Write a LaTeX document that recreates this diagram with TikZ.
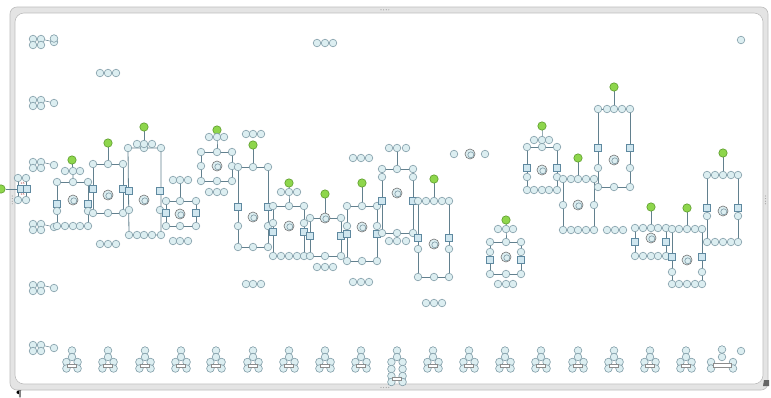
\documentclass[tikz,border=0pt]{standalone}
\usetikzlibrary{backgrounds}
\definecolor{cf}{HTML}{DCEEF1}
\definecolor{cb}{HTML}{7F9BA6}
\definecolor{sf}{HTML}{CFE6EF}
\definecolor{sb}{HTML}{5F89A0}
\definecolor{gf}{HTML}{8ED64C}
\definecolor{gb}{HTML}{5C9C2C}
\definecolor{lc}{HTML}{62808E}
\definecolor{frf}{HTML}{E4E4E4}
\definecolor{frb}{HTML}{BDBDBD}
\tikzset{
 c/.style={circle,draw=cb,fill=cf,line width=0.6pt,minimum size=7.6pt,inner sep=0pt},
 sq/.style={rectangle,draw=sb,fill=sf,line width=0.6pt,minimum size=7pt,inner sep=0pt},
 gn/.style={circle,draw=gb,fill=gf,line width=0.6pt,minimum size=8.4pt,inner sep=0pt},
 rg/.style={circle,draw=black!55,fill=cf,line width=0.6pt,minimum size=10pt,inner sep=0pt,
   path picture={\draw[draw=cb,line width=0.6pt] ([shift={(0.8pt,-0.8pt)}]path picture bounding box.center) circle (3pt);}},
 lb/.style={rectangle,draw=black!45,fill=white,line width=0.4pt,minimum width=9pt,minimum height=3pt,inner sep=0pt},
 ln/.style={draw=lc,line width=0.8pt},
 hd/.style={circle,fill=black!35,minimum size=1.2pt,inner sep=0pt}
}
\newcommand\rowc[3]{\foreach \xx [count=\ii] in {#3} {\node[c] (#1\ii) at (\xx,#2) {};}}
\newcommand\lclust[2]{\begin{scope}[shift={(0,#2)}]
 \node[c] (#1a) at (33,-3) {}; \node[c] (#1b) at (41,-3) {};
 \node[c] (#1c) at (33,3) {}; \node[c] (#1d) at (41,3) {};
 \node[c] (#1e) at (54,0) {};
 \draw[ln,line width=0.5pt] (#1b) -- (#1e);
\end{scope}}
\newcommand\tclust[2]{\begin{scope}[shift={(#2,0)}]
 \node[c] (#1a) at (0,350.5) {}; \node[c] (#1b) at (0,357) {};
 \node[c] (#1c) at (-5.6,362) {}; \node[c] (#1d) at (5.6,362) {};
 \node[c] (#1e) at (-5.6,368.5) {}; \node[c] (#1f) at (5.6,368.5) {};
 \node[lb] (#1l) at (0,365.3) {};
\end{scope}}
\newcommand\boxln[4]{\draw[ln] (#1.center) -- (#2.center) -- (#3.center) -- (#4.center) -- cycle;}
\begin{document}
\begin{tikzpicture}[x=1pt,y=-1pt]
\useasboundingbox (0,0) rectangle (771,397);
% ---------- frame -----------
\begin{pgfonlayer}{background}
\fill[white] (0,0) rectangle (771,397);
\draw[draw=frb,fill=frf,rounded corners=7pt,line width=0.6pt] (10,7) rectangle (768,390);
\draw[draw=frb,fill=white,rounded corners=9pt,line width=0.6pt] (15,13) rectangle (763,384);
\end{pgfonlayer}
\foreach \k in {0,1,2,3} {
 \node[hd] (ht\k) at (381+2.6*\k,9.8) {};
 \node[hd] (hb\k) at (381+2.6*\k,387.5) {};
 \node[hd] (hl\k) at (12.3,196+2.6*\k) {};
 \node[hd] (hr\k) at (765.5,196+2.6*\k) {};
}
\fill[black!60] (764,380) -- (769,380) -- (769,386) -- (763,386) -- cycle;
\node[inner sep=0pt,font=\footnotesize\bfseries] (pil) at (19,394) {\P};
% ---------- left column ----------
\lclust{LA}{42}
\node[c] (LAx) at (54,38.5) {};
\lclust{LB}{103}
\lclust{LC}{165}
\lclust{LD}{227}
\lclust{LE}{288}
\lclust{LF}{348}
% left edge element
\node[gn] (X0) at (1,189) {};
\node[c] (X1) at (18,178) {}; \node[c] (X2) at (26,178) {};
\node[sq] (X3) at (21,189) {}; \node[sq] (X4) at (27,189) {};
\node[c] (X5) at (18,200) {}; \node[c] (X6) at (26,200) {};
\draw[ln] (X0) -- (X3);
\node[font=\fontsize{3}{3}\selectfont,text=red!60!black] (X7) at (22.5,183.5) {15};
\node[font=\fontsize{3}{3}\selectfont,text=red!60!black] (X8) at (22.5,194.5) {15};
% loose groups
\rowc{T1}{43}{317,325,333}
\rowc{T2}{73}{100,108,116}
\node[c] (T3) at (741,40) {};
\node[c] (T4) at (741,351) {};
% ---------- A ----------
\node[gn] (Ag) at (72,160) {};
\rowc{At}{171}{65,73,80}
\rowc{Ar}{182}{57,73,88}
\node[sq] (As1) at (57,204) {}; \node[sq] (As2) at (88,204) {};
\node[c] (Ac1) at (57,211) {}; \node[c] (Ac2) at (88,211) {};
\rowc{Ab}{226}{57,65,73,80,88}
\node[rg] (Am) at (73,200) {};
% ---------- B ----------
\node[gn] (Bg) at (108,143) {};
\rowc{Br}{164}{93,108,123}
\node[sq] (Bs1) at (93,189) {}; \node[sq] (Bs2) at (123,189) {};
\rowc{Bb}{213}{93,108,123}
\node[rg] (Bm) at (108,195) {};
\rowc{Bu}{244}{100,108,116}
% ---------- C ----------
\node[gn] (Cg) at (144,127) {};
\rowc{Cr}{148}{128,144,161}
\rowc{Ct}{144}{137,144,152}
\node[sq] (Cs1) at (129,191) {}; \node[sq] (Cs2) at (160,191) {};
\node[c] (Cc1) at (129,210) {}; \node[c] (Cc2) at (160,210) {};
\rowc{Cb}{235}{129,137,144,152,161}
\node[rg] (Cm) at (144,200) {};
% ---------- D ----------
\rowc{Dt}{180}{173,180,188}
\rowc{Dr}{201}{166,180,196}
\node[sq] (Ds1) at (166,213) {}; \node[sq] (Ds2) at (196,213) {};
\rowc{Db}{226}{166,180,196}
\node[rg] (Dm) at (180,214) {};
\rowc{Du}{241}{173,180,188}
% ---------- E ----------
\node[gn] (Eg) at (217,130) {};
\rowc{Et}{137}{209,217,224}
\rowc{Er}{152}{201,217,232}
\node[c] (Ec1) at (201,166) {}; \node[c] (Ec2) at (232,166) {};
\rowc{Eb}{181}{201,217,232}
\node[rg] (Em) at (217,166) {};
\rowc{Eu}{192}{209,217,224}
\rowc{Ev}{134}{246,253,261}
% ---------- F ----------
\node[gn] (Fg) at (253,145) {};
\rowc{Fr}{167}{238,253,268}
\node[sq] (Fs1) at (238,207) {}; \node[sq] (Fs2) at (268,207) {};
\node[c] (Fc1) at (238,226) {}; \node[c] (Fc2) at (268,226) {};
\rowc{Fb}{247}{238,253,268}
\node[rg] (Fm) at (253,217) {};
\rowc{Fu}{284}{246,253,261}
% ---------- G ----------
\node[gn] (Gg) at (289,183) {};
\rowc{Gt}{192}{281,289,297}
\rowc{Gr}{206}{273,289,304}
\node[c] (Gc1) at (273,223) {}; \node[c] (Gc2) at (304,223) {};
\node[sq] (Gs1) at (273,232) {}; \node[sq] (Gs2) at (304,232) {};
\rowc{Gb}{256}{273,281,289,297,304}
\node[rg] (Gm) at (289,226) {};
% ---------- H ----------
\node[gn] (Hg) at (325,194) {};
\node[c] (Hr1) at (310,218) {}; \node[rg] (Hr2) at (325,218) {}; \node[c] (Hr3) at (341,218) {};
\node[sq] (Hs1) at (310,236) {}; \node[sq] (Hs2) at (341,236) {};
\rowc{Hb}{256}{310,325,341}
\rowc{Hu}{267}{317,325,333}
% ---------- I ----------
\node[gn] (Ig) at (362,183) {};
\rowc{Ir}{206}{347,362,377}
\node[c] (Ic1) at (347,226) {}; \node[c] (Ic2) at (377,226) {};
\node[sq] (Is1) at (347,234) {}; \node[sq] (Is2) at (377,234) {};
\rowc{Ib}{261}{347,362,377}
\node[rg] (Im) at (362,227) {};
\rowc{Iu}{282}{353,361,369}
% ---------- J ----------
\rowc{Jt}{148}{389,397,406}
\rowc{Jr}{169}{382,397,413}
\node[c] (Jc1) at (382,177) {}; \node[c] (Jc2) at (413,177) {};
\node[sq] (Js1) at (382,201) {}; \node[sq] (Js2) at (413,201) {};
\rowc{Jb}{233}{382,397,413}
\node[rg] (Jm) at (397,193) {};
\rowc{Ju}{241}{389,397,406}
\rowc{Jv}{158}{353,361,369}
% ---------- K ----------
\node[gn] (Kg) at (434,179) {};
\rowc{Kr}{201}{418,426,434,442,449}
\node[sq] (Ks1) at (418,238) {}; \node[sq] (Ks2) at (449,238) {};
\node[c] (Kc1) at (418,249) {}; \node[c] (Kc2) at (449,249) {};
\rowc{Kb}{277}{418,434,449}
\node[rg] (Km) at (434,244) {};
\rowc{Ku}{303}{426,434,442}
\node[c] (Kv1) at (454,154) {}; \node[rg] (Kv2) at (470,154) {}; \node[c] (Kv3) at (485,154) {};
% ---------- L ----------
\node[gn] (Lg) at (506,220) {};
\rowc{Lt}{229}{498,506,513}
\rowc{Lr}{242}{490,506,521}
\node[c] (Lc1) at (490,252) {}; \node[c] (Lc2) at (521,252) {};
\node[sq] (Ls1) at (490,260) {}; \node[sq] (Ls2) at (521,260) {};
\rowc{Lb}{274}{490,506,521}
\node[rg] (Lm) at (506,257) {};
\rowc{Lu}{284}{498,506,513}
% ---------- M ----------
\node[gn] (Mg) at (542,126) {};
\rowc{Mr}{147}{527,542,557}
\rowc{Mt}{140}{534,542,549}
\node[sq] (Ms1) at (527,168) {}; \node[sq] (Ms2) at (557,168) {};
\node[c] (Mc1) at (527,177) {}; \node[c] (Mc2) at (557,177) {};
\rowc{Mb}{190}{527,534,542,549,557}
\node[rg] (Mm) at (542,170) {};
% ---------- N ----------
\node[gn] (Ng) at (578,158) {};
\rowc{Nr}{179}{563,571,578,586,594}
\node[c] (Nc1) at (563,205) {}; \node[c] (Nc2) at (594,205) {};
\rowc{Nb}{230}{563,571,578,586,594}
\node[rg] (Nm) at (578,205) {};
\rowc{Nu}{230}{607,615,623}
% ---------- O ----------
\node[gn] (Og) at (614,87) {};
\rowc{Or}{109}{598,607,614,622,630}
\node[sq] (Os1) at (598,148) {}; \node[sq] (Os2) at (630,148) {};
\node[c] (Oc1) at (598,168) {}; \node[c] (Oc2) at (630,168) {};
\rowc{Ob}{187}{598,614,630}
\node[rg] (Om) at (614,160) {};
% ---------- P ----------
\node[gn] (Pg) at (651,207) {};
\rowc{Pr}{228}{635,643,651,658,666}
\node[sq] (Ps1) at (635,242) {}; \node[sq] (Ps2) at (666,242) {};
\rowc{Pb}{256}{635,643,651,658,666}
\node[rg] (Pm) at (651,238) {};
% ---------- Q ----------
\node[gn] (Qg) at (687,208) {};
\rowc{Qr}{229}{672,679,687,695,702}
\node[sq] (Qs1) at (672,257) {}; \node[sq] (Qs2) at (702,257) {};
\node[c] (Qc1) at (672,272) {}; \node[c] (Qc2) at (702,272) {};
\rowc{Qb}{284}{672,679,687,695,702}
\node[rg] (Qm) at (687,260) {};
% ---------- R ----------
\node[gn] (Rg) at (723,153) {};
\rowc{Rr}{175}{707,715,723,731,738}
\node[sq] (Rs1) at (707,208) {}; \node[sq] (Rs2) at (738,208) {};
\node[c] (Rc1) at (707,216) {}; \node[c] (Rc2) at (738,216) {};
\rowc{Rb}{242}{707,715,723,731,738}
\node[rg] (Rm) at (723,211) {};
% ---------- bottom trees ----------
\foreach \xx [count=\k] in {72,108,145,181,216,253,289,325,361,433,469,505,541,578,614,650,686} {\tclust{B\k}{\xx}}
% tall one
\begin{scope}[shift={(397,0)}]
 \node[c] (BTa) at (0,350.5) {}; \node[c] (BTb) at (0,357) {};
 \node[c] (BTc) at (-5.6,362) {}; \node[c] (BTd) at (5.6,362) {};
 \node[c] (BTe) at (-5.6,369) {}; \node[c] (BTf) at (5.6,369) {};
 \node[c] (BTg) at (-5.6,376) {}; \node[c] (BTh) at (5.6,376) {};
 \node[c] (BTi) at (-5.6,382) {}; \node[c] (BTj) at (5.6,382) {};
 \node[lb] (BTl) at (0,378.5) {};
\end{scope}
% wide one
\begin{scope}[shift={(722,0)}]
 \node[c] (BWa) at (0,349.5) {}; \node[c] (BWb) at (0,357) {};
 \node[c] (BWc) at (-11,362) {}; \node[c] (BWd) at (11,362) {};
 \node[c] (BWe) at (-11,368.5) {}; \node[c] (BWf) at (11,368.5) {};
 \node[lb,minimum width=18pt,minimum height=4pt] (BWl) at (0,365.3) {};
\end{scope}
% ---------- connectors ----------
\begin{pgfonlayer}{background}
\draw[ln] (X1.center) -- (X5.center); \draw[ln] (X2.center) -- (X6.center);
\draw[ln] (Ag.center) -- (At2.center) -- (Ar2.center); \boxln{Ar1}{Ar3}{Ab5}{Ab1}
\draw[ln] (Bg.center) -- (Br2.center); \boxln{Br1}{Br3}{Bb3}{Bb1}
\draw[ln] (Cg.center) -- (Ct2.center); \boxln{Cr1}{Cr3}{Cb5}{Cb1}
\draw[ln] (Dt2.center) -- (Dr2.center); \boxln{Dr1}{Dr3}{Db3}{Db1}
\draw[ln] (Eg.center) -- (Et2.center) -- (Er2.center); \boxln{Er1}{Er3}{Eb3}{Eb1}
\draw[ln] (Fg.center) -- (Fr2.center); \boxln{Fr1}{Fr3}{Fb3}{Fb1}
\draw[ln] (Gg.center) -- (Gt2.center) -- (Gr2.center); \boxln{Gr1}{Gr3}{Gb5}{Gb1}
\draw[ln] (Hg.center) -- (Hr2.center); \boxln{Hr1}{Hr3}{Hb3}{Hb1}
\draw[ln] (Ig.center) -- (Ir2.center); \boxln{Ir1}{Ir3}{Ib3}{Ib1}
\draw[ln] (Jt2.center) -- (Jr2.center); \boxln{Jr1}{Jr3}{Jb3}{Jb1}
\draw[ln] (Kg.center) -- (Kr3.center); \boxln{Kr1}{Kr5}{Kb3}{Kb1}
\draw[ln] (Lg.center) -- (Lt2.center) -- (Lr2.center); \boxln{Lr1}{Lr3}{Lb3}{Lb1}
\draw[ln] (Mg.center) -- (Mt2.center) -- (Mr2.center); \boxln{Mr1}{Mr3}{Mb5}{Mb1}
\draw[ln] (Ng.center) -- (Nr3.center); \boxln{Nr1}{Nr5}{Nb5}{Nb1}
\draw[ln] (Og.center) -- (Or3.center); \boxln{Or1}{Or5}{Ob3}{Ob1}
\draw[ln] (Pg.center) -- (Pr3.center); \boxln{Pr1}{Pr5}{Pb5}{Pb1}
\draw[ln] (Qg.center) -- (Qr3.center); \boxln{Qr1}{Qr5}{Qb5}{Qb1}
\draw[ln] (Rg.center) -- (Rr3.center); \boxln{Rr1}{Rr5}{Rb5}{Rb1}
\end{pgfonlayer}
\end{tikzpicture}
\end{document}
